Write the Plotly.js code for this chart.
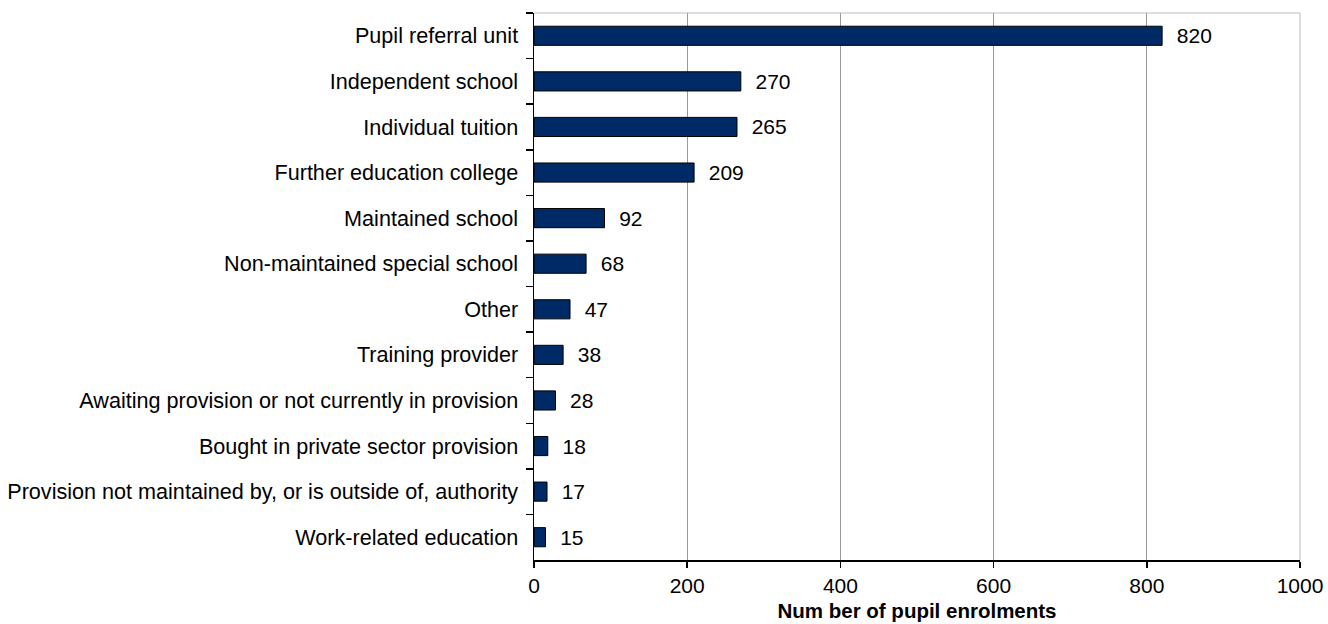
<!DOCTYPE html>
<html>
<head>
<meta charset="utf-8">
<script src="https://cdn.plot.ly/plotly-3.0.1.min.js"></script>
<style>html,body{margin:0;padding:0;background:#fff;}#chart{width:1328px;height:624px;}</style>
</head>
<body>
<div id="chart"></div>
<script>
const categories = [
  "Pupil referral unit",
  "Independent school",
  "Individual tuition",
  "Further education college",
  "Maintained school",
  "Non-maintained special school",
  "Other",
  "Training provider",
  "Awaiting provision or not currently in provision",
  "Bought in private sector provision",
  "Provision not maintained by, or is outside of, authority",
  "Work-related education"
];
const enrolments = [820, 270, 265, 209, 92, 68, 47, 38, 28, 18, 17, 15];
const xTickValues = [0, 200, 400, 600, 800, 1000];

const font = "Liberation Sans, Arial, sans-serif";

const trace = {
  type: "bar",
  orientation: "h",
  y: categories,
  x: enrolments,
  width: 0.42,
  marker: {color: "#002A66", line: {color: "#000000", width: 1}},
  text: enrolments.map(String),
  texttemplate: "\u00a0\u00a0%{text}",
  textposition: "outside",
  constraintext: "none",
  textfont: {family: font, size: 21, color: "#000"},
  cliponaxis: false,
  hoverinfo: "none"
};

const layout = {
  width: 1328, height: 624,
  margin: {l: 534, r: 28, t: 13, b: 64},
  paper_bgcolor: "#fff", plot_bgcolor: "#fff",
  showlegend: false,
  font: {family: font, size: 21, color: "#000"},
  xaxis: {
    range: [0, 1000],
    tickvals: xTickValues,
    showgrid: true, gridcolor: "#999", gridwidth: 1,
    zeroline: false,
    showline: true, linecolor: "#000", linewidth: 1.5,
    ticks: "outside", ticklen: 6, tickcolor: "#000", tickwidth: 1.5,
    tickfont: {family: font, size: 21},
    title: {text: "<b>Num ber of pupil enrolments</b>", font: {family: font, size: 20.5}, standoff: 8}
  },
  yaxis: {
    type: "category",
    autorange: "reversed",
    showgrid: false, zeroline: false,
    showline: true, linecolor: "#000", linewidth: 1.5,
    ticks: "outside", ticklen: 7, tickcolor: "#000", tickwidth: 1.5,
    tickson: "boundaries",
    ticklabelstandoff: 10,
    tickfont: {family: font, size: 21.6}
  },
  bargap: 0.58,
  shapes: [
    {type: "line", xref: "paper", yref: "paper", x0: 0, x1: 1, y0: 1, y1: 1, line: {color: "#bbb", width: 1}},
    {type: "line", xref: "paper", yref: "paper", x0: 1, x1: 1, y0: 0, y1: 1, line: {color: "#bbb", width: 1}}
  ]
};

Plotly.newPlot("chart", [trace], layout, {displayModeBar: false, staticPlot: true});
</script>
</body>
</html>
